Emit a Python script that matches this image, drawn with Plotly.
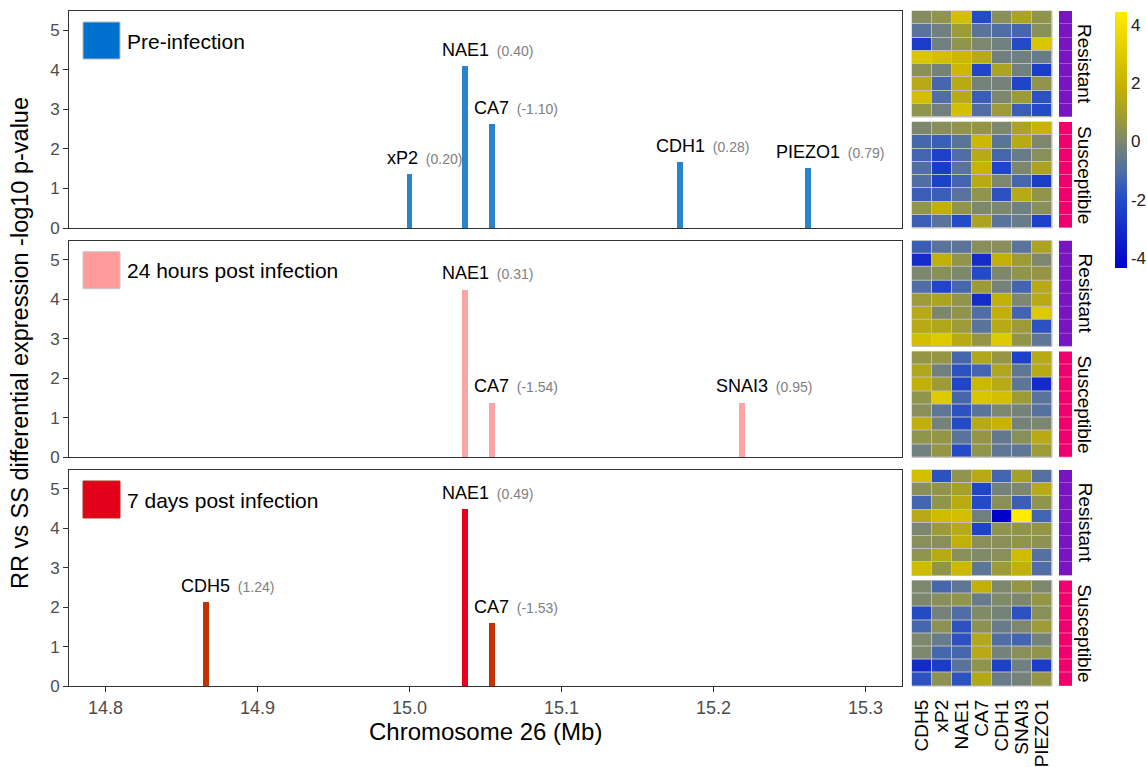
import plotly.graph_objects as go
import numpy as np

# ---------------- data ----------------
panel_names = ["Pre-infection", "24 hours post infection", "7 days post infection"]

pre_genes = ["xP2", "NAE1", "CA7", "CDH1", "PIEZO1"]
pre_pos = [15.000, 15.0366, 15.054, 15.178, 15.262]
pre_logp = [1.36, 4.10, 2.63, 1.66, 1.51]
pre_fc = ["0.20", "0.40", "-1.10", "0.28", "0.79"]

h24_genes = ["NAE1", "CA7", "SNAI3"]
h24_pos = [15.0366, 15.054, 15.2186]
h24_logp = [4.25, 1.39, 1.39]
h24_fc = ["0.31", "-1.54", "0.95"]

d7_genes = ["CDH5", "NAE1", "CA7"]
d7_pos = [14.866, 15.0366, 15.054]
d7_logp = [2.12, 4.50, 1.60]
d7_fc = ["1.24", "0.49", "-1.53"]

x_ticks = [14.8, 14.9, 15.0, 15.1, 15.2, 15.3]
y_ticks = [0, 1, 2, 3, 4, 5]

heat_genes = ["CDH5", "xP2", "NAE1", "CA7", "CDH1", "SNAI3", "PIEZO1"]
group_names = ["Resistant", "Susceptible"]

pre_res = [
    [0.2, 0.5, 2.5, -2.0, 0.3, 1.2, 0.5],
    [-0.8, -0.3, 0.8, -0.8, -1.0, -1.2, 0.3],
    [-2.5, -0.3, 0.5, 0.0, -0.3, -2.0, 2.8],
    [2.8, 2.5, 2.2, 1.5, -0.3, -0.3, -0.5],
    [0.3, -0.2, 2.2, -2.2, 1.2, -0.3, -2.5],
    [1.5, -1.2, 1.5, -0.2, -0.2, -2.2, 0.5],
    [2.5, -1.0, 1.5, -1.5, 0.0, 0.8, -1.8],
    [0.5, -0.3, 2.5, -1.0, 0.8, -1.5, -2.0]]
pre_sus = [
    [0.0, 0.3, 0.5, 0.6, 0.0, 1.2, 2.0],
    [-1.2, -1.5, -0.8, 2.2, -0.8, 1.5, 0.0],
    [-1.3, -2.3, -1.0, 1.5, -1.2, -0.5, 0.3],
    [-1.0, -2.5, -0.8, 2.0, -2.2, 0.0, 1.2],
    [-1.0, -2.3, -1.3, 1.5, 0.0, -1.2, -2.5],
    [-1.5, -1.5, -0.8, 0.5, -1.8, 1.5, 0.5],
    [0.5, 1.8, 0.5, 0.0, 0.0, -0.3, 0.3],
    [-1.5, -0.8, -2.0, 1.2, -0.8, -0.5, -2.3]]
h24_res = [
    [-1.5, -0.8, -0.8, 0.3, 0.3, -0.8, 1.2],
    [-3.0, 1.8, 0.5, -3.0, 1.8, 0.8, 0.0],
    [0.0, 0.3, 0.0, -2.0, 0.0, 0.5, 0.6],
    [-1.0, -2.2, -1.2, 0.8, -0.2, -1.3, 1.5],
    [0.8, 1.2, 0.5, -3.0, 1.8, 0.0, 1.5],
    [1.5, 0.0, 0.5, -1.0, 1.8, -1.3, 3.0],
    [1.5, 1.3, 0.8, -0.8, 1.5, 0.8, -1.8],
    [2.5, 3.0, 1.5, 0.6, 3.0, 0.5, -0.7]]
h24_sus = [
    [0.6, 0.6, -1.2, 1.3, 0.6, -2.3, 1.5],
    [1.3, -0.3, -1.8, -1.3, 1.3, -0.7, 1.5],
    [1.8, 0.8, -2.2, 2.2, 1.5, -0.7, -3.0],
    [0.5, 3.0, -1.2, 2.8, 2.5, 0.8, -0.8],
    [0.3, -0.7, -1.8, -0.8, 0.0, -0.2, -0.9],
    [1.8, -0.2, -2.0, 1.5, 2.0, -0.2, 0.0],
    [0.5, 0.6, -0.8, 0.6, -0.6, 0.3, 1.5],
    [-0.3, 0.6, -2.0, 0.5, -0.7, -0.7, 0.8]]
d7_res = [
    [2.5, -1.8, 0.5, 1.5, -1.3, 1.0, -0.9],
    [0.3, 0.5, 1.0, -2.2, -0.2, 0.0, 1.5],
    [-1.3, 0.5, 1.6, -2.0, 0.3, -1.5, 0.5],
    [1.5, 2.3, 2.5, -0.3, -4.33, 4.45, -1.3],
    [0.0, 0.8, 1.5, -2.3, 0.5, 0.5, 0.6],
    [0.3, 0.3, 1.8, 0.3, 0.3, 0.5, 0.4],
    [0.5, 1.5, 0.3, 0.1, 0.3, 2.3, -0.9],
    [2.3, 0.5, 2.2, -0.7, 0.8, 1.8, -1.0]]
d7_sus = [
    [0.0, -1.2, -0.7, 1.8, 0.0, 0.6, 0.0],
    [0.0, 0.3, 0.5, -0.5, 0.1, 0.0, 0.6],
    [-2.0, -0.2, -1.0, 0.1, -0.2, -1.8, 0.3],
    [-1.2, 0.4, -1.8, 0.4, -0.5, 0.0, 0.8],
    [0.0, -0.5, -1.8, 1.4, -1.0, -1.3, -0.2],
    [0.0, -1.2, -1.2, 1.5, -0.2, 0.3, 0.5],
    [-3.0, -2.5, -0.8, 0.5, -2.3, -0.3, -2.5],
    [-1.8, 0.4, -1.8, 1.4, -0.5, -0.2, 0.6]]

colorbar_ticks = [-4, -2, 0, 2, 4]

# ---------------- styles / layout ----------------
W, H = 1147, 767
FONT = "Arial, Liberation Sans, sans-serif"

bar_colors = [
    ["#2B83C9"] * 5,
    ["#FBA4A4"] * 3,
    ["#C43200", "#E8001E", "#C43200"],
]
legend_fill = ["#0070CE", "#FF9B9B", "#E2001A"]
legend_line = ["#BBBBBB", "#C8C8C8", "#A8301C"]
group_colors = ["#7A14C0", "#F0006E"]
group_gap = ["#9A55D0", "#F560A0"]


def px_x(x):
    return x / W


def px_y(y):
    return 1 - y / H


main_x = [px_x(69), px_x(902)]
panels_px = [(11, 228), (240.7, 457.3), (470, 686)]
blocks_px = [(11, 117), (122, 228), (240.7, 346.5), (351.5, 457.3), (470, 575.5), (580.5, 686)]
heat_x = [px_x(912), px_x(1052)]
ann_x = [px_x(1059), px_x(1072)]

# Arial widths (per 1000 em) for label centering
AW = {"A": 667, "C": 722, "D": 722, "E": 667, "H": 722, "I": 278, "N": 722, "O": 778,
      "P": 667, "S": 667, "Z": 611, "x": 500}


def text_w(s, size):
    return sum(AW.get(c, 556) for c in s) * size / 1000.0


fig = go.Figure()

series = [
    (pre_genes, pre_pos, pre_logp, pre_fc),
    (h24_genes, h24_pos, h24_logp, h24_fc),
    (d7_genes, d7_pos, d7_logp, d7_fc),
]

annotations = []
shapes = []

for i, (genes, pos, logp, fc) in enumerate(series):
    xa = "x" if i == 0 else f"x{i+1}"
    ya = "y" if i == 0 else f"y{i+1}"
    fig.add_trace(go.Bar(x=pos, y=logp, width=0.0039, marker=dict(color=bar_colors[i], line=dict(width=0)),
                         xaxis=xa, yaxis=ya, showlegend=False, hoverinfo="x+y"))
    for g, p, v, f in zip(genes, pos, logp, fc):
        w = text_w(g, 18)
        shift = -w / 2 - 2
        if g == "xP2":
            shift -= 7
        annotations.append(dict(
            x=p, y=v, xref=xa, yref=ya, xanchor="left", yanchor="bottom",
            xshift=shift, yshift=4, showarrow=False,
            text=f"{g}<span style='font-size:14px;color:#808080'>&nbsp;&nbsp;({f})</span>",
            font=dict(size=18, color="black", family=FONT)))
    # legend key
    top, bot = panels_px[i]
    hgt = bot - top
    shapes.append(dict(type="rect", xref=f"{xa} domain", yref=f"{ya} domain",
                       x0=(83 - 69) / 833, x1=(120 - 69) / 833,
                       y0=1 - 48 / hgt, y1=1 - 11 / hgt,
                       fillcolor=legend_fill[i], line=dict(color=legend_line[i], width=1)))
    annotations.append(dict(x=(125 - 69) / 833, y=1 - 30 / hgt, xref=f"{xa} domain", yref=f"{ya} domain",
                            xanchor="left", yanchor="middle", showarrow=False, text=panel_names[i],
                            font=dict(size=21, color="black", family=FONT)))

heat_blocks = [pre_res, pre_sus, h24_res, h24_sus, d7_res, d7_sus]
allv = np.array(heat_blocks, dtype=float)
cmin, cmax = float(allv.min()), float(allv.max())

stops_v = [cmin, -2, -1, 0, 1, 2, cmax]
stops_c = ["rgb(0,0,205)", "rgb(35,75,200)", "rgb(80,110,165)", "rgb(125,135,110)",
           "rgb(165,160,40)", "rgb(200,180,0)", "rgb(255,235,0)"]
cscale = [[(v - cmin) / (cmax - cmin), c] for v, c in zip(stops_v, stops_c)]

for k, blk in enumerate(heat_blocks):
    yn = k + 4
    fig.add_trace(go.Heatmap(z=blk, x=list(range(len(heat_genes))), y=list(range(len(blk))),
                             coloraxis="coloraxis", xgap=1, ygap=1,
                             xaxis="x4", yaxis=f"y{yn}", hoverinfo="z"))
    g = k % 2
    fig.add_trace(go.Heatmap(z=[[1]] * len(blk), x=[0], y=list(range(len(blk))),
                             colorscale=[[0, group_colors[g]], [1, group_colors[g]]],
                             showscale=False, ygap=1, xaxis="x5", yaxis=f"y{yn}", hoverinfo="skip"))
    shapes.append(dict(type="rect", xref="x4 domain", yref=f"y{yn} domain", x0=0, x1=1, y0=0, y1=1,
                       fillcolor="#BDBDBD", line=dict(color="#BDBDBD", width=1), layer="below"))
    shapes.append(dict(type="rect", xref="x5 domain", yref=f"y{yn} domain", x0=0, x1=1, y0=0, y1=1,
                       fillcolor=group_gap[g], line=dict(width=0), layer="below"))
    t, b = blocks_px[k]
    annotations.append(dict(x=px_x(1085), y=px_y((t + b) / 2), xref="paper", yref="paper",
                            xanchor="center", yanchor="middle", showarrow=False, textangle=90,
                            text=group_names[g], font=dict(size=19, color="black", family=FONT)))

# axis titles
annotations.append(dict(x=px_x(485), y=px_y(731), xref="paper", yref="paper", showarrow=False,
                        xanchor="center", yanchor="middle", text="Chromosome 26 (Mb)",
                        font=dict(size=24, color="black", family=FONT)))
annotations.append(dict(x=px_x(20), y=px_y(343), xref="paper", yref="paper", showarrow=False,
                        xanchor="center", yanchor="middle", textangle=-90,
                        text="RR vs SS differential expression -log10 p-value",
                        font=dict(size=23.5, color="black", family=FONT)))

layout = dict(
    width=W, height=H, autosize=False,
    margin=dict(l=0, r=0, t=0, b=0, autoexpand=False),
    paper_bgcolor="white", plot_bgcolor="white",
    font=dict(family=FONT),
    showlegend=False,
    bargap=0,
    annotations=annotations, shapes=shapes,
    coloraxis=dict(colorscale=cscale, cmin=cmin, cmax=cmax,
                   colorbar=dict(x=px_x(1115), xanchor="left", y=px_y(11.7), yanchor="top",
                                 len=(268 - 11.7) / H, lenmode="fraction", thickness=12,
                                 outlinewidth=0, xpad=0, ypad=0, ticks="",
                                 tickvals=colorbar_ticks, ticktext=[str(t) for t in colorbar_ticks],
                                 tickfont=dict(size=17, color="#222222", family=FONT))),
)

xrange = [14.776, 15.324]
for i, (t, b) in enumerate(panels_px):
    xk = "xaxis" if i == 0 else f"xaxis{i+1}"
    yk = "yaxis" if i == 0 else f"yaxis{i+1}"
    ya = "y" if i == 0 else f"y{i+1}"
    xa = "x" if i == 0 else f"x{i+1}"
    last = i == 2
    layout[xk] = dict(domain=main_x, anchor=ya, range=xrange, showgrid=False, zeroline=False,
                      showline=True, mirror=True, linecolor="#333333", linewidth=1,
                      ticks="outside" if last else "", ticklen=5, tickcolor="#333333",
                      showticklabels=last, tickvals=x_ticks, automargin=False,
                      ticktext=[f"{v:.1f}" for v in x_ticks],
                      tickfont=dict(size=18, color="#4D4D4D", family=FONT))
    layout[yk] = dict(domain=[px_y(b), px_y(t)], anchor=xa, range=[0, 5.48], showgrid=False,
                      zeroline=False, showline=True, mirror=True, linecolor="#333333", linewidth=1,
                      ticks="outside", ticklen=5, tickcolor="#333333", tickvals=y_ticks,
                      automargin=False,
                      tickfont=dict(size=17, color="#4D4D4D", family=FONT))

for k, (t, b) in enumerate(blocks_px):
    layout[f"yaxis{k+4}"] = dict(domain=[px_y(b), px_y(t)], anchor="x4", range=[7.5, -0.5],
                                 showgrid=False, zeroline=False, showline=False, automargin=False,
                                 showticklabels=False, ticks="")
layout["xaxis4"] = dict(domain=heat_x, anchor="y9", range=[-0.5, 6.5], showgrid=False,
                        zeroline=False, showline=False, ticks="", tickangle=-90,
                        tickvals=list(range(len(heat_genes))), ticktext=heat_genes,
                        ticklabelstandoff=9, automargin=False,
                        tickfont=dict(size=19, color="black", family=FONT))
layout["xaxis5"] = dict(domain=ann_x, anchor="y9", range=[-0.5, 0.5], visible=False, automargin=False)

fig.update_layout(**layout)

page_fix = (
    "var de=document.documentElement, bd=document.body;"
    "[de, bd].forEach(function(e){e.style.margin='0';e.style.padding='0';"
    "e.style.overflow='hidden';e.style.height='767px';e.style.width='1147px';});"
)
fig.write_html("out.html", config={"displayModeBar": False}, post_script=page_fix)
